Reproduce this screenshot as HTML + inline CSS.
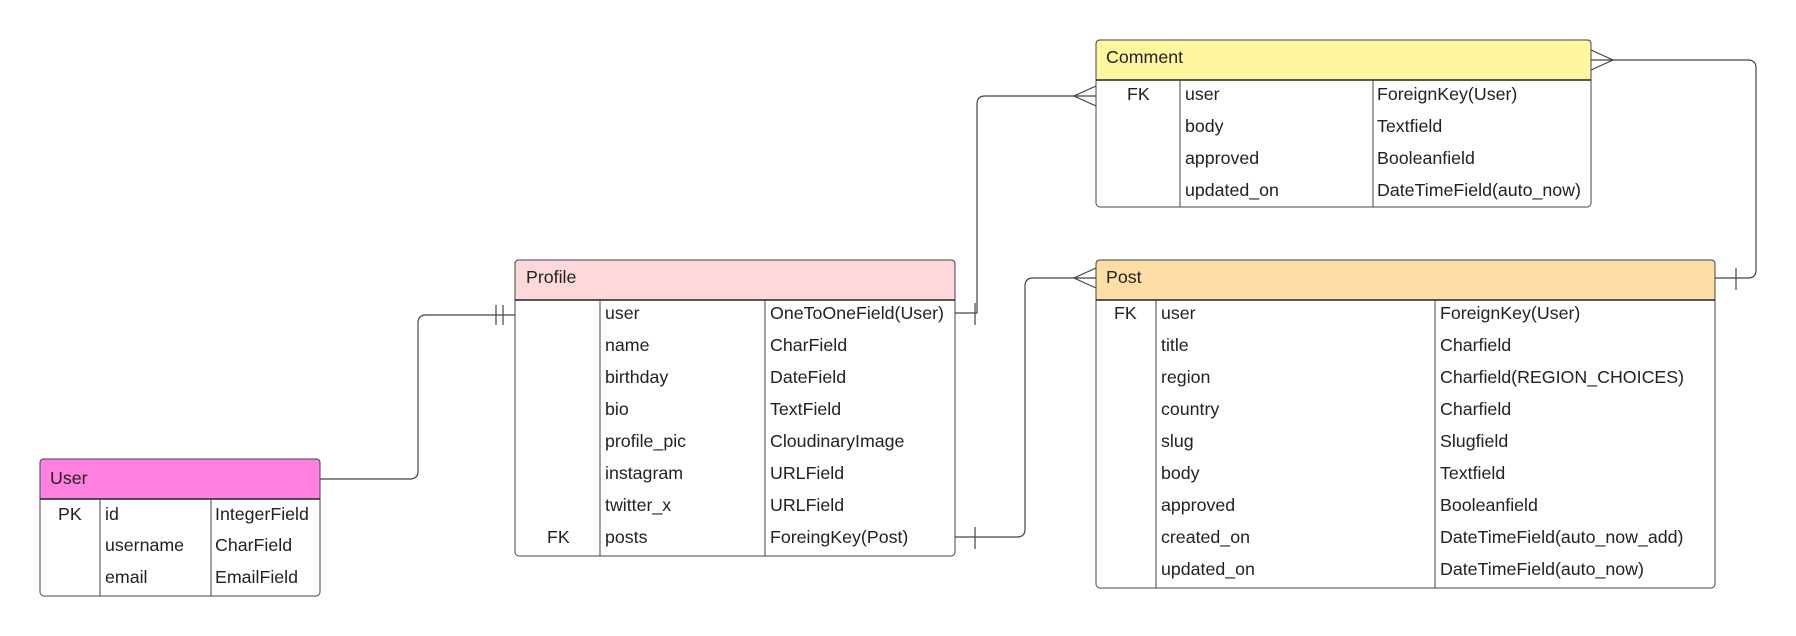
<!DOCTYPE html>
<html><head><style>
body{margin:0;background:#fff}
svg{display:block}
text{font-family:"Liberation Sans",sans-serif;font-size:17.8px;fill:#222}
</style></head><body>
<svg width="1796" height="636" viewBox="0 0 1796 636">
<g stroke="#444" stroke-width="1.2" fill="none">
<path d="M320 479 H410 Q418 479 418 471 V323 Q418 315 426 315 H515"/>
<path d="M496 305 V325 M503 305 V325"/>
<path d="M955 313 H977 V104 Q977 96 985 96 H1096"/>
<path d="M975 303 V325"/>
<path d="M1096 86 L1074 96 L1096 106"/>
<path d="M955 537 H1017 Q1025 537 1025 529 V286 Q1025 278 1033 278 H1096"/>
<path d="M975 527 V549"/>
<path d="M1096 268 L1074 278 L1096 288"/>
<path d="M1715 278 H1748 Q1756 278 1756 270 V68 Q1756 60 1748 60 H1591"/>
<path d="M1736 268 V290"/>
<path d="M1591 50 L1613 60 L1591 70"/>
</g>

<rect x="40" y="459" width="280" height="137" rx="4" fill="#fff" stroke="#444"/>
<path d="M40 499 V463 Q40 459 44 459 H316 Q320 459 320 463 V499 Z" fill="#ff80df" stroke="#444"/>
<line x1="40" y1="499" x2="320" y2="499" stroke="#222" stroke-width="1.5"/>
<line x1="100" y1="499" x2="100" y2="596" stroke="#444"/>
<line x1="211" y1="499" x2="211" y2="596" stroke="#444"/>
<text x="50" y="484">User</text>
<text x="58" y="520">PK</text><text x="105" y="520">id</text><text x="215" y="520">IntegerField</text>
<text x="105" y="551">username</text><text x="215" y="551">CharField</text>
<text x="105" y="583">email</text><text x="215" y="583">EmailField</text>

<rect x="515" y="260" width="440" height="296" rx="4" fill="#fff" stroke="#444"/>
<path d="M515 300 V264 Q515 260 519 260 H951 Q955 260 955 264 V300 Z" fill="#ffd8dc" stroke="#444"/>
<line x1="515" y1="300" x2="955" y2="300" stroke="#222" stroke-width="1.5"/>
<line x1="600" y1="300" x2="600" y2="556" stroke="#444"/>
<line x1="765" y1="300" x2="765" y2="556" stroke="#444"/>
<text x="526" y="283">Profile</text>
<text x="605" y="319">user</text><text x="770" y="319">OneToOneField(User)</text>
<text x="605" y="351">name</text><text x="770" y="351">CharField</text>
<text x="605" y="383">birthday</text><text x="770" y="383">DateField</text>
<text x="605" y="415">bio</text><text x="770" y="415">TextField</text>
<text x="605" y="447">profile_pic</text><text x="770" y="447">CloudinaryImage</text>
<text x="605" y="479">instagram</text><text x="770" y="479">URLField</text>
<text x="605" y="511">twitter_x</text><text x="770" y="511">URLField</text>
<text x="547" y="543">FK</text><text x="605" y="543">posts</text><text x="770" y="543">ForeingKey(Post)</text>

<rect x="1096" y="40" width="495" height="167" rx="4" fill="#fff" stroke="#444"/>
<path d="M1096 80 V44 Q1096 40 1100 40 H1587 Q1591 40 1591 44 V80 Z" fill="#fff6a0" stroke="#444"/>
<line x1="1096" y1="80" x2="1591" y2="80" stroke="#222" stroke-width="1.5"/>
<line x1="1180" y1="80" x2="1180" y2="207" stroke="#444"/>
<line x1="1373" y1="80" x2="1373" y2="207" stroke="#444"/>
<text x="1106" y="63">Comment</text>
<text x="1127" y="100">FK</text><text x="1185" y="100">user</text><text x="1377" y="100">ForeignKey(User)</text>
<text x="1185" y="132">body</text><text x="1377" y="132">Textfield</text>
<text x="1185" y="164">approved</text><text x="1377" y="164">Booleanfield</text>
<text x="1185" y="196">updated_on</text><text x="1377" y="196">DateTimeField(auto_now)</text>

<rect x="1096" y="260" width="619" height="328" rx="4" fill="#fff" stroke="#444"/>
<path d="M1096 300 V264 Q1096 260 1100 260 H1711 Q1715 260 1715 264 V300 Z" fill="#ffdda6" stroke="#444"/>
<line x1="1096" y1="300" x2="1715" y2="300" stroke="#222" stroke-width="1.5"/>
<line x1="1156" y1="300" x2="1156" y2="588" stroke="#444"/>
<line x1="1435" y1="300" x2="1435" y2="588" stroke="#444"/>
<text x="1106" y="283">Post</text>
<text x="1114" y="319">FK</text><text x="1161" y="319">user</text><text x="1440" y="319">ForeignKey(User)</text>
<text x="1161" y="351">title</text><text x="1440" y="351">Charfield</text>
<text x="1161" y="383">region</text><text x="1440" y="383">Charfield(REGION_CHOICES)</text>
<text x="1161" y="415">country</text><text x="1440" y="415">Charfield</text>
<text x="1161" y="447">slug</text><text x="1440" y="447">Slugfield</text>
<text x="1161" y="479">body</text><text x="1440" y="479">Textfield</text>
<text x="1161" y="511">approved</text><text x="1440" y="511">Booleanfield</text>
<text x="1161" y="543">created_on</text><text x="1440" y="543">DateTimeField(auto_now_add)</text>
<text x="1161" y="575">updated_on</text><text x="1440" y="575">DateTimeField(auto_now)</text>
</svg>
</body></html>
